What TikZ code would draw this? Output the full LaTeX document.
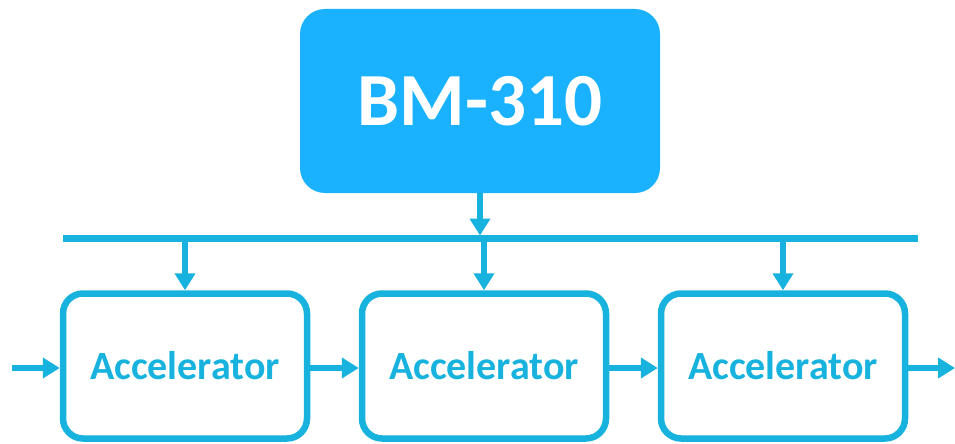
\documentclass[tikz,border=0pt]{standalone}
\usepackage{fontspec}
\setmainfont{Carlito}
\usetikzlibrary{arrows.meta}
\definecolor{hostblue}{RGB}{26,178,255}
\definecolor{linkblue}{RGB}{23,178,222}

\begin{document}
\begin{tikzpicture}[x=1pt, y=-1pt,
  host/.style={fill=hostblue, rounded corners=25pt, minimum width=360pt, minimum height=184pt,
    text=white, font=\fontsize{75}{80}\selectfont\bfseries},
  accel/.style={draw=linkblue, line width=6.5pt, fill=white, rounded corners=20pt,
    minimum width=244pt, minimum height=145pt, text=linkblue, font=\fontsize{40}{44}\selectfont\bfseries},
  link/.style={draw=linkblue, line width=6.5pt, -{Triangle[length=17pt,width=20pt]}}]
\useasboundingbox (0,0) rectangle (955,444);

\node[host] (bm) at (480,101) {BM-310};

\node[accel] (acc1) at (185,366) {Accelerator};
\node[accel] (acc2) at (484,366) {Accelerator};
\node[accel] (acc3) at (783,366) {Accelerator};

\coordinate (busL) at (63,238.5);
\coordinate (busR) at (918,238.5);
\coordinate (in) at (12,368);
\coordinate (out) at (955,368);

\draw[draw=linkblue, line width=6.5pt] (busL) -- (busR);
\draw[link, shorten >=3pt] (bm.south) -- (bm.south |- busL);
\draw[link] (acc1.north |- busL) -- (acc1.north);
\draw[link] (acc2.north |- busL) -- (acc2.north);
\draw[link] (acc3.north |- busL) -- (acc3.north);

\draw[link] (in) -- (acc1.west |- in);
\draw[link] (acc1.east |- in) -- (acc2.west |- in);
\draw[link] (acc2.east |- in) -- (acc3.west |- in);
\draw[link] (acc3.east |- in) -- (out);
\end{tikzpicture}
\end{document}
